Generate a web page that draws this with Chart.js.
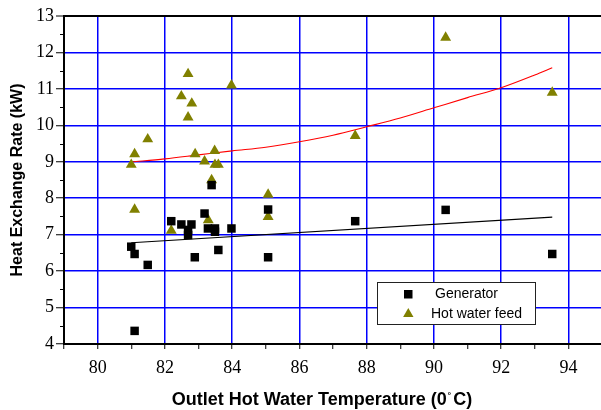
<!DOCTYPE html>
<html>
<head>
<meta charset="utf-8">
<script src="https://cdn.jsdelivr.net/npm/chart.js@4.4.1/dist/chart.umd.min.js"></script>
<style>
  html, body { margin: 0; padding: 0; background: #fff; overflow: hidden; }
  #wrap { width: 610px; height: 410px; }
</style>
</head>
<body>
<div id="wrap"><canvas id="heatChart" width="610" height="410"></canvas></div>
<script>
// measured points
var genX = [81.0, 81.1, 81.1, 81.49, 82.19, 82.49, 82.69, 82.69, 82.79, 82.89, 83.18, 83.28, 83.39, 83.49, 83.49, 83.59, 83.98, 85.07, 85.07, 87.66, 90.35, 93.52];
var genY = [6.67, 6.47, 4.36, 6.17, 7.37, 7.28, 7.13, 6.99, 7.28, 6.38, 7.58, 7.17, 8.36, 7.17, 7.08, 6.58, 7.17, 7.69, 6.38, 7.37, 7.68, 6.47];
var hotX = [81.0, 81.1, 81.1, 81.49, 82.19, 82.49, 82.69, 82.69, 82.8, 82.9, 83.18, 83.29, 83.39, 83.48, 83.49, 83.59, 83.98, 85.07, 85.07, 87.66, 90.35, 93.52];
var hotY = [8.92, 9.21, 7.69, 9.62, 7.11, 10.8, 11.41, 10.22, 10.6, 9.21, 9.01, 7.40, 8.5, 9.3, 8.92, 8.92, 11.1, 8.1, 7.49, 9.71, 12.41, 10.9];

// trend lines
var genFitX = [81.0, 93.52];
var genFitY = [6.78, 7.48];
var hotFitX = [81.0, 82, 83, 84, 85, 86, 87, 88, 89, 90, 91, 92, 93, 93.52];
var hotFitY = [8.99, 9.08, 9.19, 9.30, 9.40, 9.55, 9.73, 9.96, 10.20, 10.48, 10.76, 11.03, 11.38, 11.58];

var xMin = 79, xMax = 95, yMin = 4, yMax = 13;

function pts(xs, ys){
    return xs.map(function(x, i){ return {x: x, y: ys[i]}; });
}

var tickFont = {family: 'Liberation Serif', size: 18};

// minor y ticks, x axis title with raised degree sign, legend box
var extras = {
    id: 'extras',
    afterDraw: function(chart){
        var ctx = chart.ctx;
        var ys = chart.scales.y;
        var left = chart.chartArea.left;
        ctx.save();
        ctx.strokeStyle = '#000';
        ctx.lineWidth = 1;
        for (var v = yMin + 0.5; v < yMax; v += 1){
            var py = Math.round(ys.getPixelForValue(v)) + 0.5;
            ctx.beginPath();
            ctx.moveTo(left - 4, py);
            ctx.lineTo(left, py);
            ctx.stroke();
        }

        // x title
        var t1 = 'Outlet Hot Water Temperature (0', t2 = '\u02DA', t3 = 'C)';
        var big = 'bold 18px "Liberation Sans"', small = 'bold 11px "Liberation Sans"';
        ctx.font = big;
        var w1 = ctx.measureText(t1).width, w3 = ctx.measureText(t3).width;
        ctx.font = small;
        var w2 = ctx.measureText(t2).width + 3;
        var tx = 322 - (w1 + w2 + w3) / 2, ty = 400;
        ctx.fillStyle = '#000';
        ctx.textBaseline = 'middle';
        ctx.font = big;
        ctx.fillText(t1, tx, ty);
        ctx.font = small;
        ctx.fillText(t2, tx + w1 + 1, ty - 2);
        ctx.font = big;
        ctx.fillText(t3, tx + w1 + w2, ty);

        // legend
        var bx = 377.5, by = 282.5, bw = 158, bh = 42;
        ctx.fillStyle = '#fff';
        ctx.fillRect(bx, by, bw, bh);
        ctx.strokeStyle = '#222';
        ctx.strokeRect(bx, by, bw, bh);

        ctx.fillStyle = '#000';
        ctx.fillRect(404, 290, 8.5, 8.5);
        ctx.fillStyle = '#808000';
        ctx.beginPath();
        ctx.moveTo(408.3, 308);
        ctx.lineTo(413.5, 317);
        ctx.lineTo(403.1, 317);
        ctx.closePath();
        ctx.fill();

        ctx.fillStyle = '#000';
        ctx.font = '14px "Liberation Sans"';
        ctx.textBaseline = 'middle';
        ctx.fillText('Generator', 435, 294.5);
        ctx.fillText('Hot water feed', 431, 314);
        ctx.restore();
    }
};

var ctx = document.getElementById('heatChart');
var heatChart = new Chart(ctx, {
    type: 'scatter',
    data: {
        datasets: [{
            label: 'Generator',
            data: pts(genX, genY),
            pointStyle: 'rect',
            pointRadius: 6,
            pointHoverRadius: 6,
            backgroundColor: '#000',
            borderColor: '#000',
            borderWidth: 0,
            order: 1
        }, {
            label: 'Hot water feed',
            data: pts(hotX, hotY),
            pointStyle: 'triangle',
            pointRadius: 6.3,
            pointHoverRadius: 6.3,
            backgroundColor: '#808000',
            borderColor: '#808000',
            borderWidth: 0,
            order: 2
        }, {
            label: 'gen fit',
            type: 'line',
            data: pts(genFitX, genFitY),
            borderColor: '#000',
            borderWidth: 1.1,
            pointRadius: 0,
            fill: false,
            order: 3
        }, {
            label: 'hot fit',
            type: 'line',
            data: pts(hotFitX, hotFitY),
            borderColor: '#ff0000',
            borderWidth: 1.1,
            pointRadius: 0,
            cubicInterpolationMode: 'monotone',
            fill: false,
            order: 3
        }]
    },
    options: {
        responsive: false,
        animation: false,
        events: [],
        layout: {padding: {top: 16, right: 8, left: 0, bottom: 0}},
        plugins: {
            legend: {display: false},
            tooltip: {enabled: false}
        },
        scales: {
            x: {
                type: 'linear',
                min: xMin,
                max: xMax,
                afterFit: function(s){ s.height = 66; },
                border: {color: '#000', width: 2},
                grid: {
                    color: function(c){
                        var v = c.tick ? c.tick.value : 0;
                        return (v % 2 === 0 && v > xMin && v < xMax) ? '#0000ff' : 'rgba(0,0,0,0)';
                    },
                    lineWidth: 1.5,
                    tickColor: '#000',
                    tickLength: 5,
                    tickWidth: 1
                },
                ticks: {
                    stepSize: 1,
                    autoSkip: false,
                    maxRotation: 0,
                    padding: 8,
                    color: '#000',
                    font: tickFont,
                    callback: function(v){ return v % 2 === 0 ? v : ''; }
                },
                title: {display: false}
            },
            y: {
                type: 'linear',
                min: yMin,
                max: yMax,
                afterFit: function(s){ s.width = 64; },
                border: {color: '#000', width: 2},
                grid: {
                    color: function(c){
                        var v = c.tick ? c.tick.value : 0;
                        if (v === yMax) return '#000';
                        return (Number.isInteger(v) && v > yMin) ? '#0000ff' : 'rgba(0,0,0,0)';
                    },
                    lineWidth: function(c){
                        var v = c.tick ? c.tick.value : 0;
                        return v === yMax ? 2 : 1.5;
                    },
                    tickColor: function(c){
                        var v = c.tick ? c.tick.value : 0;
                        return Number.isInteger(v) ? '#000' : 'rgba(0,0,0,0)';
                    },
                    tickLength: 8,
                    tickWidth: 1
                },
                ticks: {
                    stepSize: 0.5,
                    autoSkip: false,
                    padding: 2,
                    color: '#000',
                    font: tickFont,
                    callback: function(v){ return Number.isInteger(v) ? v : ''; }
                },
                title: {
                    display: true,
                    text: 'Heat Exchange Rate (kW)',
                    color: '#000',
                    font: {family: 'Liberation Sans', size: 16, weight: 'bold'},
                    padding: {top: 8, bottom: 0}
                }
            }
        }
    },
    plugins: [extras]
});
</script>
</body>
</html>
